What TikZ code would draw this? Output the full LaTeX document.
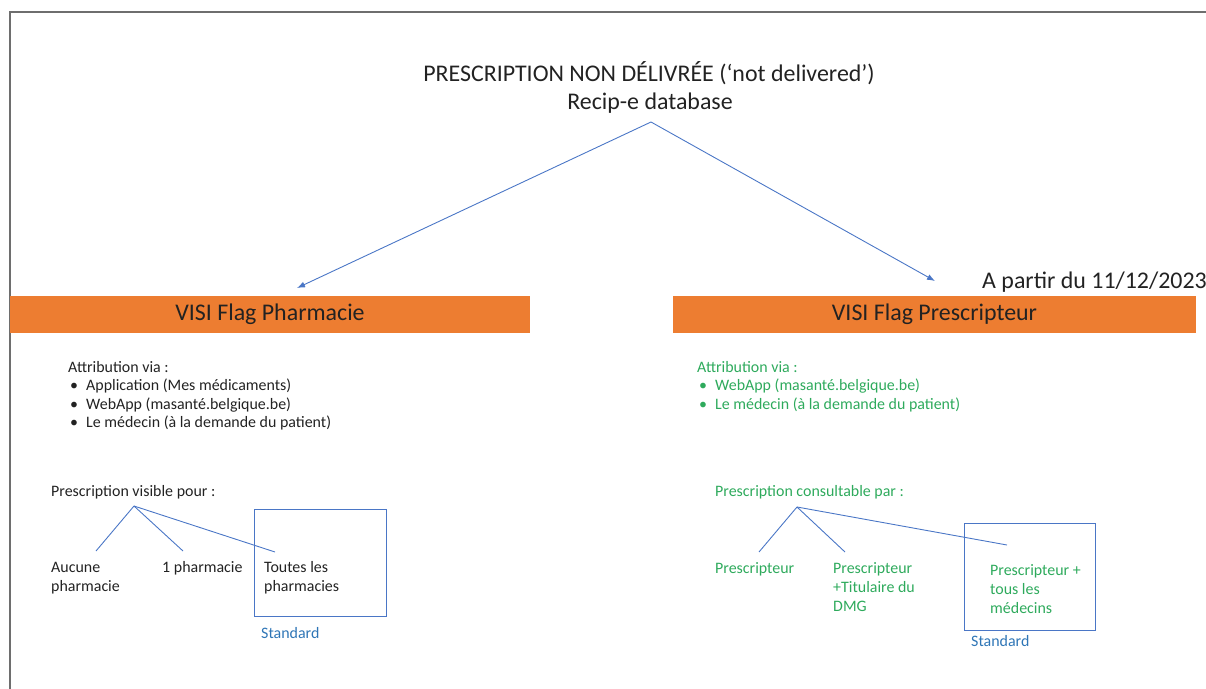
\documentclass[tikz,border=0pt]{standalone}
\usepackage{fontspec}
\setmainfont{Carlito}
\usetikzlibrary{positioning,arrows.meta}
\definecolor{ink}{HTML}{222222}
\definecolor{flagorange}{HTML}{ED7D31}
\definecolor{linkblue}{HTML}{4A76C6}
\definecolor{stdblue}{HTML}{2E75B6}
\definecolor{okgreen}{HTML}{2EAA5C}
\definecolor{frame}{HTML}{6E6E6E}
\newcommand{\bul}{\makebox[18bp][l]{\hspace{2bp}\textbullet}}

\begin{document}
\begin{tikzpicture}[
  x=1bp,y=-1bp,
  every node/.style={inner sep=0pt,text=ink},
  heading/.style={font=\fontsize{24}{29}\selectfont,anchor=base},
  flag/.style={fill=flagorange,minimum height=37bp,font=\fontsize{24}{29}\selectfont},
  item/.style={font=\fontsize{16}{18.5}\selectfont,align=left,anchor=base west},
  choice/.style={font=\fontsize{16}{19}\selectfont,align=left,anchor=base west},
  std/.style={font=\fontsize{16}{19}\selectfont,text=stdblue,anchor=base west},
  branch/.style={draw=linkblue,line width=0.9pt},
  stdbox/.style={draw=linkblue,line width=1pt},
  arrow/.style={branch,-{Latex[length=8bp,width=6bp]}}
]
\useasboundingbox (0,0) rectangle (1206,689);
\draw[frame,line width=1.2pt] (1206,12) -- (10,12) -- (10,689);

% top
\node[heading] (title) at (649,82) {PRESCRIPTION NON DÉLIVRÉE (‘not delivered’)};
\node[heading] (db) at (650,110) {Recip-e database};
\coordinate (src) at (651,122);
\node[heading,anchor=base west] (date) at (982,288) {A partir du 11/12/2023};

% flags
\node[flag,minimum width=520bp] (flagL) at (270,314.5) {VISI Flag Pharmacie};
\node[flag,minimum width=523bp] (flagR) at (934.5,314.5) {VISI Flag Prescripteur};
\coordinate (tipL) at (297,288);
\coordinate (tipR) at (935,281);
\draw[arrow] (src) -- (tipL);
\draw[arrow] (src) -- (tipR);

% attribution lists (base = last line)
\node[item] (attrL) at (68,427.5) {Attribution via :\\
  \bul Application (Mes médicaments)\\
  \bul WebApp (masanté.belgique.be)\\
  \bul Le médecin (à la demande du patient)};
\node[item,text=okgreen] (attrR) at (697,409) {Attribution via :\\
  \bul WebApp (masanté.belgique.be)\\
  \bul Le médecin (à la demande du patient)};

% pharmacie tree
\node[choice] (visL) at (51,496) {Prescription visible pour :};
\coordinate (forkL) at (134,506);
\node[choice] (none) at (51,591) {Aucune\\pharmacie};
\node[choice] (one) at (162,572) {1 pharmacie};
\node[choice] (all) at (264,591) {Toutes les\\pharmacies};
\coordinate (noneTop) at (96,551);
\coordinate (oneTop) at (183,551);
\coordinate (allTop) at (275,552);
\draw[branch] (forkL) -- (noneTop);
\draw[branch] (forkL) -- (oneTop);
\draw[branch] (forkL) -- (allTop);
\draw[stdbox] (254,509) rectangle (386,616);
\node[std] (stdL) at (261,638) {Standard};

% prescripteur tree
\node[choice,text=okgreen] (visR) at (715,496) {Prescription consultable par :};
\coordinate (forkR) at (797,507);
\node[choice,text=okgreen] (presc) at (715,573) {Prescripteur};
\node[choice,text=okgreen] (dmg) at (833,611) {Prescripteur\\+Titulaire du\\DMG};
\node[choice,text=okgreen] (doctors) at (990,613) {Prescripteur +\\tous les\\médecins};
\coordinate (prescTop) at (759,552);
\coordinate (dmgTop) at (845,552);
\coordinate (doctorsTop) at (1007,545);
\draw[branch] (forkR) -- (prescTop);
\draw[branch] (forkR) -- (dmgTop);
\draw[branch] (forkR) -- (doctorsTop);
\draw[stdbox] (964,523) rectangle (1095,630);
\node[std] (stdR) at (971,646) {Standard};
\end{tikzpicture}
\end{document}
